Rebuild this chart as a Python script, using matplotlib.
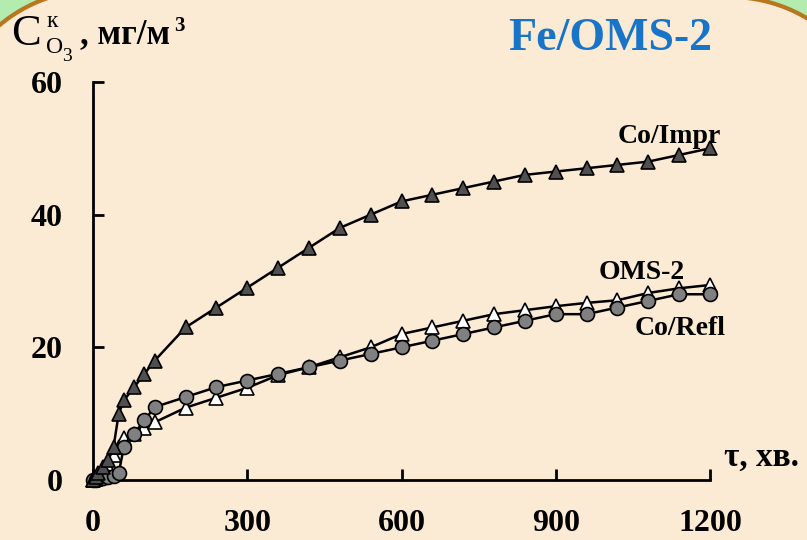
import numpy as np
import matplotlib
matplotlib.use("Agg")
import matplotlib.pyplot as plt
from matplotlib.patches import Polygon
from matplotlib.transforms import IdentityTransform

# time, min
t = [0, 5, 10, 20, 30, 40, 50, 60, 80, 100, 120, 180, 240, 300, 360, 420, 480,
     540, 600, 660, 720, 780, 840, 900, 960, 1020, 1080, 1140, 1200]

co_impr = [0, 0.5, 1, 2, 3, 5, 10, 12, 14, 16, 18, 23, 26, 29, 32, 35, 38,
           40, 42, 43, 44, 45, 46, 46.5, 47, 47.5, 48, 49, 50]
oms2 = [0, 0.2, 0.5, 1, 2, 3.8, 5, 6.3, 7, 7.8, 8.7, 10.9, 12.4, 13.9, 15.8, 17, 18.5,
        20, 22, 23, 24, 25, 25.6, 26.2, 26.7, 27.1, 28.2, 28.9, 29.4]
co_refl = [0, 0, 0.2, 0.3, 0.5, 0.6, 1, 5, 7, 9, 11, 12.5, 14, 15, 16, 17, 18,
           19, 20, 21, 22, 23, 24, 25, 25, 26, 27, 28, 28]

xticks = [0, 300, 600, 900, 1200]
yticks = [0, 20, 40, 60]

serif = ['Liberation Serif', 'DejaVu Serif']
bg = '#FCEBD4'

fig = plt.figure(figsize=(8.07, 5.40), dpi=100)
fig.patch.set_facecolor('#B4EBAE')

# slide frame: rounded top corners (pixel coords, y up)
r = 150
a1 = np.linspace(np.pi, np.pi / 2, 40)
a2 = np.linspace(np.pi / 2, 0, 40)
verts = [(-54, -100), (-54, 400)]
verts += list(zip(96 + r * np.cos(a1), 400 + r * np.sin(a1)))
verts += list(zip(730 + r * np.cos(a2), 393 + r * np.sin(a2)))
verts += [(880, -100)]
frame = Polygon(verts, closed=True, transform=IdentityTransform(),
                facecolor=bg, edgecolor='#B8761E', linewidth=3, zorder=-5)
fig.patches.append(frame)

ax = fig.add_axes([93 / 807, 60 / 540, (710 - 93) / 807, (480 - 82) / 540])
ax.set_facecolor('none')

ax.plot(t, oms2, color='black', lw=1.8, marker='^', ms=10, mfc='white',
        mec='black', mew=1.2, clip_on=False, zorder=3)
ax.plot(t, co_refl, color='black', lw=1.8, marker='o', ms=10, mfc='#808080',
        mec='black', mew=1.2, clip_on=False, zorder=4)
ax.plot(t, co_impr, color='black', lw=1.8, marker='^', ms=10, mfc='#505050',
        mec='black', mew=1.2, clip_on=False, zorder=5)

ax.set_xlim(0, 1200)
ax.set_ylim(0, 60)
ax.set_xticks(xticks)
ax.set_yticks(yticks)
ax.spines['top'].set_visible(False)
ax.spines['right'].set_visible(False)
for s in ['left', 'bottom']:
    ax.spines[s].set_linewidth(2)
ax.tick_params(direction='in', length=8, width=2)
ax.tick_params(axis='x', pad=21)
ax.tick_params(axis='y', pad=22)
for lab in ax.get_xticklabels() + ax.get_yticklabels():
    lab.set_family(serif)
    lab.set_fontweight('bold')
    lab.set_fontsize(23)

# series labels
ax.text(1120, 50.8, 'Co/Impr', family=serif, weight='bold', fontsize=20,
        ha='center', va='baseline')
ax.text(1068, 30.3, 'OMS-2', family=serif, weight='bold', fontsize=20,
        ha='center', va='baseline')
ax.text(1141, 21.9, 'Co/Refl', family=serif, weight='bold', fontsize=20,
        ha='center', va='baseline')

# title
fig.text(610 / 807, 1 - 50 / 540, 'Fe/OMS-2', family=serif, weight='bold',
         fontsize=33, color='#1874C8', ha='center', va='baseline')

# axis labels
fig.text(724 / 807, 1 - 466 / 540, 'τ, хв.', family=serif, weight='bold',
         fontsize=24, ha='left', va='baseline')

fig.text(11 / 807, 1 - 45 / 540, 'C', family=serif, fontsize=32,
         ha='left', va='baseline')
fig.text(47 / 807, 1 - 27 / 540, 'к', family=serif, fontsize=17,
         ha='left', va='baseline')
fig.text(46 / 807, 1 - 53 / 540, 'O', family=serif, fontsize=17,
         ha='left', va='baseline')
fig.text(62 / 807, 1 - 61 / 540, '3', family=serif, fontsize=14,
         ha='left', va='baseline')
fig.text(80 / 807, 1 - 43 / 540, ', мг/м', family=serif, weight='bold',
         fontsize=25, ha='left', va='baseline')
fig.text(174 / 807, 1 - 31 / 540, '3', family=serif, weight='bold',
         fontsize=15, ha='left', va='baseline')

fig.savefig('out.png', dpi=100, facecolor=fig.get_facecolor())
